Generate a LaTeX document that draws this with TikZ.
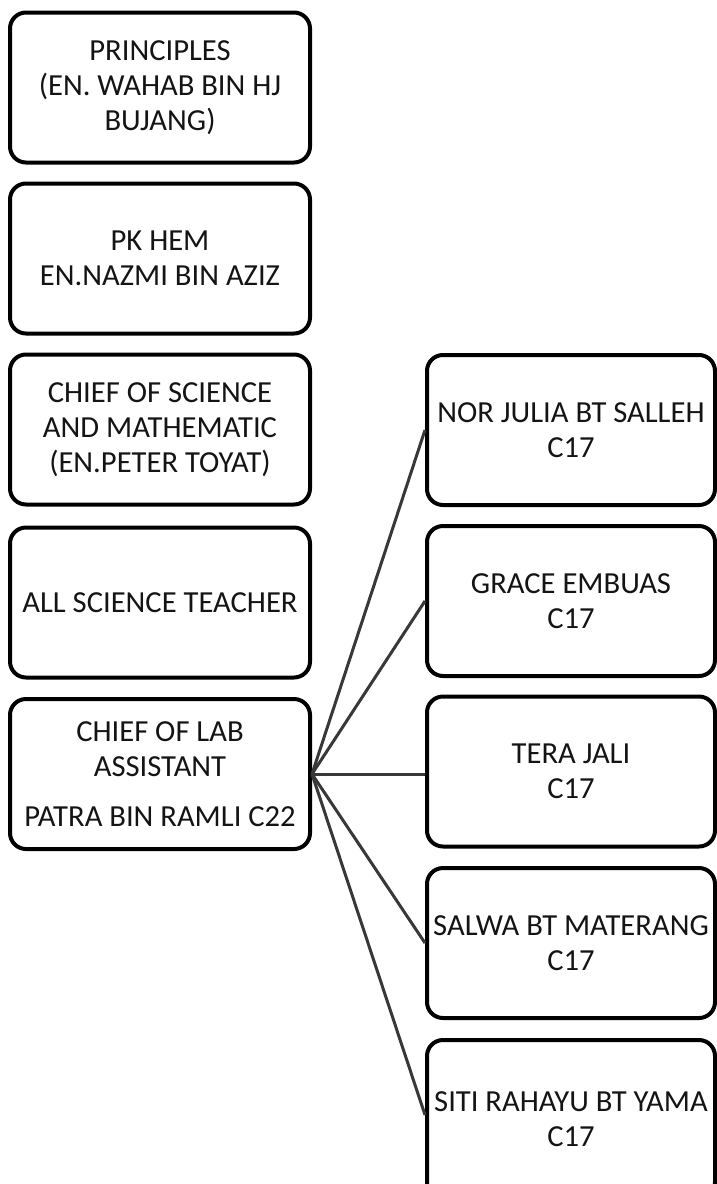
\documentclass[tikz,border=0pt]{standalone}
\usepackage{fontspec}
\setmainfont{Carlito}
\begin{document}
\begin{tikzpicture}[x=0.5pt,y=-0.5pt,
  orgbox/.style={draw=black, line width=2pt, rounded corners=8pt, fill=white,
    minimum width=150pt, minimum height=75pt, align=center, inner sep=0pt,
    font=\fontsize{15.3}{17.6}\selectfont, text=black!92},
  rbox/.style={orgbox, minimum width=144pt},
  link/.style={draw=black!78, line width=1.5pt}]
\path[use as bounding box] (0,0) rectangle (717,1184);
\clip (0,0) rectangle (717,1184);
\node[orgbox] (prin) at (160,87.5) {PRINCIPLES\\(EN. WAHAB BIN HJ\\BUJANG)};
\node[orgbox] (pk) at (160,258.5) {PK HEM\\EN.NAZMI BIN AZIZ};
\node[orgbox] (chief) at (160,429.5) {CHIEF OF SCIENCE\\AND MATHEMATIC\\(EN.PETER TOYAT)};
\node[orgbox] (all) at (160,602.5) {ALL SCIENCE TEACHER};
\node[orgbox] (lab) at (160,774) {CHIEF OF LAB\\ASSISTANT\\[7.5pt]PATRA BIN RAMLI C22};
\node[rbox] (nj) at (571,430) {NOR JULIA BT SALLEH\\C17};
\node[rbox] (ge) at (571,601) {GRACE EMBUAS\\C17};
\node[rbox] (tj) at (571,771.5) {TERA JALI\\C17};
\node[rbox] (sm) at (571,943) {SALWA BT MATERANG\\C17};
\node[rbox, minimum height=79pt] (sr) at (571,1119) {SITI RAHAYU BT YAMA\\C17};
\coordinate (hub) at (lab.east);
\draw[link] (hub) -- (nj.west);
\draw[link] (hub) -- (ge.west);
\draw[link] (hub) -- (tj.west |- hub);
\draw[link] (hub) -- (sm.west);
\draw[link] (hub) -- ([yshift=2pt]sr.west);
\end{tikzpicture}
\end{document}
